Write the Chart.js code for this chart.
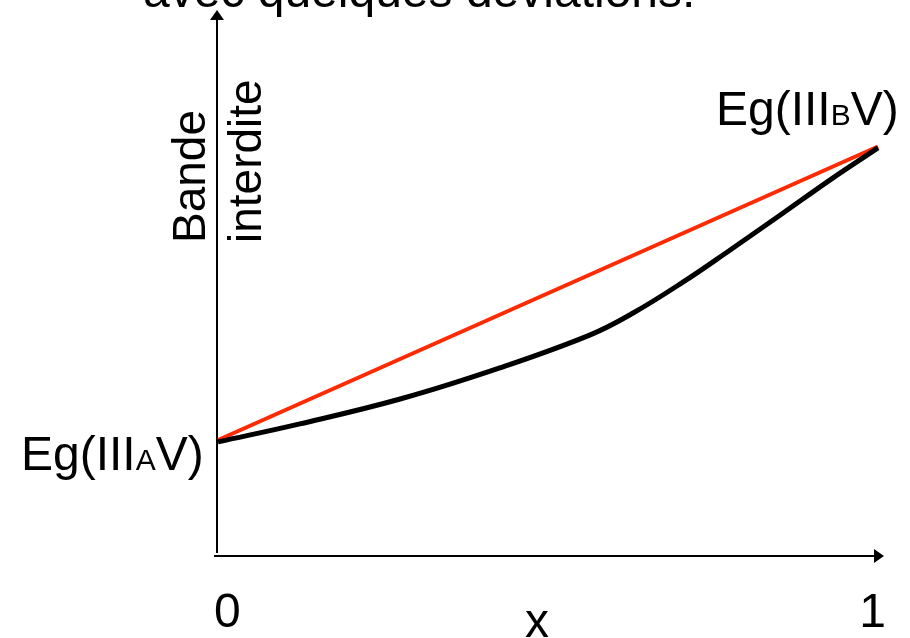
<!DOCTYPE html>
<html>
<head>
<meta charset="utf-8">
<script src="https://cdn.jsdelivr.net/npm/chart.js@4"></script>
<style>
  body { margin: 0; background: #fff; }
  #wrap { width: 910px; height: 638px; }
</style>
</head>
<body>
<div id="wrap"><canvas id="gap" width="910" height="638"></canvas></div>
<script>
// données (x = fraction, y = énergie en unités arbitraires)
const lineaireX = [0, 1]
const lineaireY = [0.425, 1.50]
const reelX = [0, 0.124, 0.276, 0.427, 0.564, 0.629, 0.705, 0.776, 0.852, 0.927, 1]
const reelY = [0.418, 0.484, 0.575, 0.689, 0.810, 0.890, 1.004, 1.121, 1.249, 1.377, 1.495]
const xTickValues = [0, 1]
const xTickLabels = ['0', '1']
const titre = 'avec quelques déviations:'
const axeY = ['Bande', 'interdite']
const axeX = 'x'

const toPoints = (xs, ys) => xs.map((x, i) => ({ x: x, y: ys[i] }))

const FONT = '"Liberation Sans", Arial, sans-serif'

// petite fonction pour écrire Eg(III<sub>V)
function egLabel(c, x, y, sub) {
  c.font = '48px ' + FONT
  c.fillText('Eg(III', x, y)
  x += c.measureText('Eg(III').width
  c.font = '30px ' + FONT
  c.fillText(sub, x, y)
  x += c.measureText(sub).width
  c.font = '48px ' + FONT
  c.fillText('V)', x, y)
}

const dessin = {
  id: 'dessin',
  beforeDatasetsDraw: (chart) => {
    const c = chart.ctx
    const a = chart.chartArea
    c.save()
    c.strokeStyle = '#000'
    c.fillStyle = '#000'
    c.lineWidth = 2
    // axe vertical
    c.beginPath()
    c.moveTo(a.left - 1, a.bottom - 3)
    c.lineTo(a.left - 1, a.top + 8)
    c.stroke()
    c.beginPath()
    c.moveTo(a.left - 1, a.top)
    c.lineTo(a.left - 8, a.top + 10)
    c.lineTo(a.left + 6, a.top + 10)
    c.closePath()
    c.fill()
    // axe horizontal
    c.beginPath()
    c.moveTo(a.left - 4, a.bottom)
    c.lineTo(a.right - 2, a.bottom)
    c.stroke()
    c.beginPath()
    c.moveTo(a.right + 6, a.bottom)
    c.lineTo(a.right - 4, a.bottom - 7)
    c.lineTo(a.right - 4, a.bottom + 7)
    c.closePath()
    c.fill()
    c.restore()
  },
  afterDraw: (chart) => {
    const c = chart.ctx
    const xs = chart.scales.x
    c.save()
    c.fillStyle = '#000'
    c.textBaseline = 'alphabetic'
    // titre coupé en haut
    c.font = '48px ' + FONT
    c.textAlign = 'left'
    c.fillText(titre, 143, 7)
    // graduations 0 et 1
    c.fillText(xTickLabels[0], xs.getPixelForValue(xTickValues[0]) - 4, 627)
    c.textAlign = 'right'
    c.fillText(xTickLabels[1], xs.getPixelForValue(xTickValues[1]) + 8, 627)
    c.textAlign = 'center'
    c.fillText(axeX, 537, 637)
    // étiquettes Eg
    c.textAlign = 'left'
    egLabel(c, 21, 470, 'A')
    egLabel(c, 716, 125, 'B')
    // titre de l'axe y, tourné
    c.font = '46px ' + FONT
    c.translate(0, 243)
    c.rotate(-Math.PI / 2)
    c.fillText(axeY[0], 0, 205)
    c.fillText(axeY[1], 0, 261)
    c.restore()
  }
}

const graph = new Chart(document.getElementById('gap'), {
  type: 'line',
  data: {
    datasets: [
      {
        data: toPoints(reelX, reelY),
        borderColor: '#000000',
        borderWidth: 5,
        pointRadius: 0,
        tension: 0.4,
        clip: false,
        order: 0
      },
      {
        data: toPoints(lineaireX, lineaireY),
        borderColor: '#ff2a00',
        borderWidth: 4,
        pointRadius: 0,
        clip: false,
        order: 1
      }
    ]
  },
  options: {
    responsive: false,
    animation: false,
    events: [],
    layout: { padding: { left: 218, right: 32, top: 10, bottom: 82 } },
    scales: {
      x: { type: 'linear', min: 0, max: 1, display: false },
      y: { type: 'linear', min: 0, max: 2, display: false }
    },
    plugins: {
      legend: { display: false },
      tooltip: { enabled: false }
    }
  },
  plugins: [dessin]
})
</script>
</body>
</html>
